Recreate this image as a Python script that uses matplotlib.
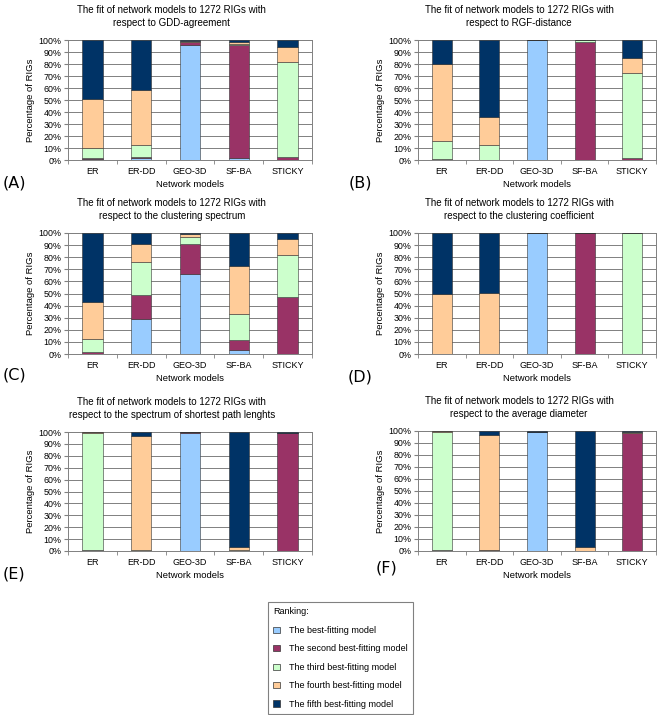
import matplotlib
matplotlib.use("Agg")
import matplotlib.pyplot as plt
from matplotlib.patches import Patch
from matplotlib.ticker import FixedLocator, PercentFormatter

plt.rcParams["font.family"] = ["Liberation Sans", "DejaVu Sans"]

models = ["ER", "ER-DD", "GEO-3D", "SF-BA", "STICKY"]
ranks = ["The best-fitting model", "The second best-fitting model",
         "The third best-fitting model", "The fourth best-fitting model",
         "The fifth best-fitting model"]
colors = ["#99CCFF", "#993366", "#CCFFCC", "#FFCC99", "#003366"]

# rows: rank 1..5, columns: models (percent of RIGs)
gdd_agreement = [[0.5, 1.5, 96.0, 2.0, 0.0],
                 [1.5, 1.0, 2.5, 94.0, 2.5],
                 [8.0, 10.3, 0.0, 1.0, 79.5],
                 [40.5, 45.8, 0.3, 1.5, 12.0],
                 [49.5, 41.4, 1.2, 1.5, 6.0]]
rgf_distance = [[0, 0, 100, 0, 0],
                [0.5, 0.3, 0, 98.2, 2.0],
                [15.5, 12.2, 0, 1.5, 70.5],
                [64.3, 23.6, 0, 0.3, 12.2],
                [19.7, 63.9, 0, 0, 15.3]]
clust_spectrum = [[0, 29.3, 66.0, 3.5, 0],
                  [2.0, 19.5, 24.8, 8.0, 47.5],
                  [10.8, 27.5, 6.2, 21.5, 34.0],
                  [30.0, 14.2, 2.0, 40.0, 13.5],
                  [57.2, 9.5, 1.0, 27.0, 5.0]]
clust_coeff = [[0, 0, 100, 0, 0],
               [0, 0, 0, 100, 0.3],
               [0.3, 0, 0, 0, 99.7],
               [49.0, 50.7, 0, 0, 0],
               [50.7, 49.3, 0, 0, 0]]
shortest_paths = [[0, 0, 99.5, 0, 0],
                  [0.5, 0, 0.5, 0, 99.5],
                  [99.0, 0.7, 0, 0.5, 0],
                  [0.5, 96.3, 0, 3.0, 0],
                  [0, 3.0, 0, 96.5, 0.5]]
avg_diameter = [[0, 0, 99.5, 0, 0],
                [1.0, 0.5, 0, 0, 98.5],
                [98.5, 0, 0, 0, 0],
                [0.5, 96.3, 0, 3.0, 0.5],
                [0, 3.2, 0.5, 97.0, 1.0]]

titles = ["The fit of network models to 1272 RIGs with\nrespect to GDD-agreement",
          "The fit of network models to 1272 RIGs with\nrespect to RGF-distance",
          "The fit of network models to 1272 RIGs with\nrespect to the clustering spectrum",
          "The fit of network models to 1272 RIGs with\nrespect to the clustering coefficient",
          "The fit of network models to 1272 RIGs with\nrespect to the spectrum of shortest path lenghts",
          "The fit of network models to 1272 RIGs with\nrespect to the average diameter"]
panel_data = [gdd_agreement, rgf_distance, clust_spectrum,
              clust_coeff, shortest_paths, avg_diameter]
panel_tags = ["(A)", "(B)", "(C)", "(D)", "(E)", "(F)"]

W, H = 662, 715
fig = plt.figure(figsize=(W / 100, H / 100), dpi=100)

# axes boxes in pixels: left, top, right, bottom
boxes = [(68, 40, 312, 160), (418, 40, 656, 160),
         (68, 233, 312, 354), (418, 233, 656, 354),
         (68, 432, 312, 551), (418, 431, 656, 551)]
tag_pos = [(3, 183), (349, 183), (3, 375), (348, 377), (3, 574), (376, 568)]

for i, (l, t, r, b) in enumerate(boxes):
    ax = fig.add_axes([l / W, 1 - b / H, (r - l) / W, (b - t) / H])
    x = range(len(models))
    bottom = [0] * len(models)
    for vals, c in zip(panel_data[i], colors):
        ax.bar(x, vals, 0.42, bottom=bottom, color=c,
               edgecolor="#333333", linewidth=0.4, zorder=3)
        bottom = [a + v for a, v in zip(bottom, vals)]
    ax.set_ylim(0, 100)
    ax.set_xlim(-0.5, len(models) - 0.5)
    ax.yaxis.set_major_locator(FixedLocator(range(0, 101, 10)))
    ax.yaxis.set_major_formatter(PercentFormatter(decimals=0))
    ax.set_xticks(list(x))
    ax.set_xticklabels(models)
    ax.xaxis.set_minor_locator(FixedLocator([k - 0.5 for k in range(len(models) + 1)]))
    ax.tick_params(axis="x", which="major", length=0, labelsize=6.5, pad=5)
    ax.tick_params(axis="x", which="minor", length=3, color="#808080")
    ax.tick_params(axis="y", length=3, labelsize=6.4, pad=1.5, color="#808080")
    ax.grid(axis="y", color="#808080", linewidth=0.7, zorder=0)
    for s in ax.spines.values():
        s.set_color("#808080")
        s.set_linewidth(0.7)
    ax.set_xlabel("Network models", fontsize=6.8, labelpad=3)
    ax.set_ylabel("Percentage of RIGs", fontsize=6.8, labelpad=3)
    ax.set_title(titles[i], fontsize=7, x=0.425, pad=10, linespacing=1.35)
    tx, ty = tag_pos[i]
    fig.text(tx / W, 1 - ty / H, panel_tags[i], fontsize=11.5,
             family="DejaVu Sans", va="center", ha="left")

handles = [Patch(facecolor=c, edgecolor="#333333", linewidth=0.5) for c in colors]
leg = fig.legend(handles, ranks, title="Ranking:", loc="upper left",
                 bbox_to_anchor=(268 / W, 1 - 602 / H), borderaxespad=0,
                 fontsize=6.5, title_fontsize=6.5, labelspacing=1.05,
                 handlelength=0.7, handleheight=0.7, handletextpad=1.0,
                 fancybox=False, framealpha=1, edgecolor="#808080",
                 borderpad=0.6, alignment="left")
leg.get_frame().set_linewidth(0.8)

fig.savefig("out.png", dpi=100)
